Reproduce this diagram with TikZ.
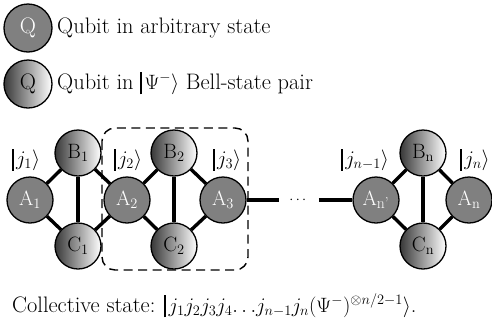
\documentclass[tikz,border=0pt]{standalone}
\usepackage{amsmath}
\newcommand{\tbar}{\mathord{\rule[-0.24em]{0.085em}{0.98em}}\mkern2mu}
\begin{document}
\begin{tikzpicture}[x=1pt,y=-1pt,
  every node/.style={font=\fontsize{22.4}{26}\selectfont},
  qa/.style={circle, draw, line width=1.3pt, fill=black!50, text=white, minimum size=46pt, inner sep=0pt},
  qb/.style={circle, draw, line width=1.3pt, left color=black!78, right color=white, minimum size=46pt, inner sep=0pt},
  link/.style={line width=3.4pt},
  lab/.style={inner sep=0pt}]
\useasboundingbox (0,0) rectangle (492,322);
% dashed group box
\draw[line width=1.4pt, dash pattern=on 9pt off 5.5pt, rounded corners=13pt] (102,128) rectangle (248,270);
% legend
\node[qa, minimum size=48pt] (LQ1) at (28,28) {Q};
\node[lab, anchor=base west] (LT1) at (57,33) {Qubit in arbitrary state};
\node[qb, minimum size=48pt] (LQ2) at (28,84) {Q};
\node[lab, anchor=base west] (LT2) at (57,89) {Qubit in $\tbar\Psi^-\rangle$ Bell-state pair};
% nodes
\node[qa] (A1) at (30,200) {$\mathrm{A}_1$};
\node[qb] (B1) at (78,153) {$\mathrm{B}_1$};
\node[qb] (C1) at (78,246) {$\mathrm{C}_1$};
\node[qa] (A2) at (127,200) {$\mathrm{A}_2$};
\node[qb] (B2) at (174,153) {$\mathrm{B}_2$};
\node[qb] (C2) at (174,246) {$\mathrm{C}_2$};
\node[qa] (A3) at (223,200) {$\mathrm{A}_3$};
\node[inner xsep=10pt, inner ysep=0pt, font=\fontsize{14}{16}\selectfont] (dots) at (299,200) {$\cdots$};
\node[qa] (An1) at (376,200) {$\mathrm{A}_{\text{n'}}$};
\node[qb] (Bn) at (423,153) {$\mathrm{B}_{\mathrm{n}}$};
\node[qb] (Cn) at (423,246) {$\mathrm{C}_{\mathrm{n}}$};
\node[qa] (An) at (469,200) {$\mathrm{A}_{\mathrm{n}}$};
% links
\draw[link] (A1) -- (B1); \draw[link] (A1) -- (C1); \draw[link] (B1) -- (C1);
\draw[link] (B1) -- (A2); \draw[link] (C1) -- (A2);
\draw[link] (A2) -- (B2); \draw[link] (A2) -- (C2); \draw[link] (B2) -- (C2);
\draw[link] (B2) -- (A3); \draw[link] (C2) -- (A3);
\draw[link] (A3) -- (dots); \draw[link] (dots) -- (An1);
\draw[link] (An1) -- (Bn); \draw[link] (An1) -- (Cn); \draw[link] (Bn) -- (Cn);
\draw[link] (Bn) -- (An); \draw[link] (Cn) -- (An);
% ket labels
\node[lab] (K1) at (26,160) {$\tbar j_1\rangle$};
\node[lab] (K2) at (128,160) {$\tbar j_2\rangle$};
\node[lab] (K3) at (227,160) {$\tbar j_3\rangle$};
\node[lab] (K4) at (365,160) {$\tbar j_{n-1}\rangle$};
\node[lab] (K5) at (475,160) {$\tbar j_n\rangle$};
% collective state
\node[lab, anchor=base west] (CS) at (12,312) {Collective state: $\tbar j_1j_2j_3j_4{\ldots}j_{n-1}j_n(\Psi^-)^{\otimes n/2-1}\rangle$.};
\end{tikzpicture}
\end{document}
